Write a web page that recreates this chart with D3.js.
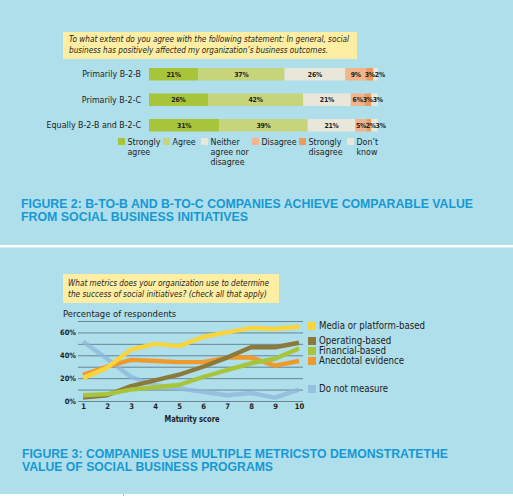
<!DOCTYPE html>
<html>
<head>
<meta charset="utf-8">
<script src="https://cdn.jsdelivr.net/npm/d3@7"></script>
<style>
  body { margin: 0; background: #aedfeb; }
  svg { display: block; }
  text { font-family: "Liberation Sans Narrow", "DejaVu Sans Condensed", "Liberation Sans", sans-serif; fill: #1d1d1b; }
  .title { font-family: "Liberation Sans", Arial, sans-serif; font-weight: bold; fill: #1798d3; font-size: 12.5px; }
</style>
</head>
<body>
<div id="chart"></div>
<script>
// figure 2 data
const groups = ['Primarily B-2-B', 'Primarily B-2-C', 'Equally B-2-B and B-2-C'];
const answers = ['Strongly agree', 'Agree', 'Neither agree nor disagree', 'Disagree', 'Strongly disagree', "Don't know"];
const stronglyAgree = [21, 26, 31];
const agree = [37, 42, 39];
const neither = [26, 21, 21];
const disagree = [9, 6, 5];
const stronglyDisagree = [3, 3, 2];
const dontKnow = [2, 3, 3];

// figure 3 data
const maturity = [1, 2, 3, 4, 5, 6, 7, 8, 9, 10];
const mediaBased = [20, 29, 45, 50, 48, 56, 60, 64, 63, 65];
const operatingBased = [3, 5, 13, 18, 23, 30, 38, 47, 47, 51];
const financialBased = [5, 6, 10, 12, 14, 21, 27, 33, 37, 46];
const anecdotal = [23, 30, 36, 35, 34, 34, 38, 38, 31, 35];
const notMeasure = [52, 37, 21, 14, 11, 8, 5, 7, 3, 10];
const yTicks = [0, 10, 20, 30, 40, 50, 60, 70];

const width = 513;
const height = 496;

const svg = d3.select('#chart')
  .append('svg')
  .attr('width', width)
  .attr('height', height);

svg.append('rect').attr('width', width).attr('height', height).attr('fill', '#aedfeb');

// white separators
svg.append('rect').attr('x', 0).attr('y', 245).attr('width', width).attr('height', 2.5).attr('fill', '#fff');
svg.append('rect').attr('x', 0).attr('y', 494).attr('width', width).attr('height', 2).attr('fill', '#fff');
svg.append('rect').attr('x', 123).attr('y', 494).attr('width', 1).attr('height', 2).attr('fill', '#bbb');

// ---------- figure 2: stacked bars ----------
const q1 = svg.append('g');
q1.append('rect').attr('x', 63).attr('y', 32).attr('width', 294).attr('height', 27).attr('fill', '#fdeea3');
q1.append('text').attr('x', 69).attr('y', 42).attr('font-size', 8.6).attr('font-style', 'italic')
  .attr('textLength', 280).attr('lengthAdjust', 'spacingAndGlyphs')
  .text('To what extent do you agree with the following statement:  In general, social');
q1.append('text').attr('x', 69).attr('y', 53).attr('font-size', 8.6).attr('font-style', 'italic')
  .attr('textLength', 259).attr('lengthAdjust', 'spacingAndGlyphs')
  .text('business has positively affected my organization\u2019s business outcomes.');

const table = groups.map((g, i) => ({
  group: g,
  'Strongly agree': stronglyAgree[i],
  'Agree': agree[i],
  'Neither agree nor disagree': neither[i],
  'Disagree': disagree[i],
  'Strongly disagree': stronglyDisagree[i],
  "Don't know": dontKnow[i]
}));

const series = d3.stack().keys(answers).offset(d3.stackOffsetExpand)(table);

const barColor = d3.scaleOrdinal()
  .domain(answers)
  .range(['#a8c43b', '#c6d57c', '#e9e7d9', '#f2b48b', '#ee9a5e', '#e9e7d9']);

const bx = d3.scaleLinear().domain([0, 1]).range([149, 378]);
const by = d3.scaleBand().domain(groups).range([61.5, 138]).paddingInner(0.51).paddingOuter(0.255);

const layers = q1.selectAll('g.layer')
  .data(series)
  .join('g')
    .attr('class', 'layer')
    .attr('fill', d => barColor(d.key));

layers.selectAll('rect')
  .data(d => d)
  .join('rect')
    .attr('x', d => bx(d[0]))
    .attr('y', d => by(d.data.group))
    .attr('width', d => bx(d[1]) - bx(d[0]))
    .attr('height', by.bandwidth());

// labels: centred in the segment, small ones pushed right so they don't collide
const labels = [];
groups.forEach((g, gi) => {
  let prev = -Infinity;
  series.forEach((s, si) => {
    const d = s[gi];
    let cx = (bx(d[0]) + bx(d[1])) / 2;
    if (si === series.length - 1) cx = bx(d[0]) + 6.6;
    cx = Math.max(cx, prev + 9.8);
    prev = cx;
    labels.push({ group: g, cx, value: d.data[s.key] });
  });
});

q1.selectAll('text.seg')
  .data(labels)
  .join('text')
    .attr('class', 'seg')
    .attr('x', d => d.cx)
    .attr('y', d => by(d.group) + by.bandwidth() / 2 + 2.5)
    .attr('text-anchor', 'middle')
    .attr('font-size', 6.9)
    .attr('font-weight', 'bold')
    .attr('letter-spacing', -0.2)
    .text(d => d.value + '%');

const yAxisBars = q1.append('g')
  .attr('transform', 'translate(141,0)')
  .call(d3.axisLeft(by).tickSize(0).tickPadding(0));
yAxisBars.select('.domain').remove();
yAxisBars.selectAll('text').attr('font-size', 8.8).attr('font-family', null).attr('fill', '#1d1d1b');

const legendX = [118, 163, 201, 252, 299, 347];
const legendLines = [['Strongly', 'agree'], ['Agree'], ['Neither', 'agree nor', 'disagree'], ['Disagree'], ['Strongly', 'disagree'], ['Don\u2019t', 'know']];
const leg1 = q1.selectAll('g.leg')
  .data(answers)
  .join('g')
    .attr('class', 'leg')
    .attr('transform', (d, i) => `translate(${legendX[i]},138)`);
leg1.append('rect').attr('width', 7).attr('height', 7).attr('fill', d => barColor(d));
leg1.append('text')
  .attr('x', 9.5).attr('y', 7.3)
  .attr('font-size', 8.8)
  .selectAll('tspan')
  .data((d, i) => legendLines[i])
  .join('tspan')
    .attr('x', 9.5)
    .attr('dy', (d, i) => i === 0 ? 0 : 9.6)
    .text(d => d);

svg.append('text').attr('class', 'title').attr('x', 21).attr('y', 208)
  .attr('textLength', 452).attr('lengthAdjust', 'spacingAndGlyphs')
  .text('FIGURE 2: B-TO-B AND B-TO-C COMPANIES ACHIEVE COMPARABLE VALUE');
svg.append('text').attr('class', 'title').attr('x', 21).attr('y', 221)
  .attr('textLength', 227).attr('lengthAdjust', 'spacingAndGlyphs')
  .text('FROM SOCIAL BUSINESS INITIATIVES');

// ---------- figure 3: lines ----------
const q2 = svg.append('g');
q2.append('rect').attr('x', 63).attr('y', 274).attr('width', 216).attr('height', 29).attr('fill', '#fdeea3');
q2.append('text').attr('x', 68).attr('y', 286).attr('font-size', 8.6).attr('font-style', 'italic')
  .attr('textLength', 201).attr('lengthAdjust', 'spacingAndGlyphs')
  .text('What metrics does your organization use to determine');
q2.append('text').attr('x', 68).attr('y', 296.5).attr('font-size', 8.6).attr('font-style', 'italic')
  .attr('textLength', 199).attr('lengthAdjust', 'spacingAndGlyphs')
  .text('the success of social initiatives? (check all that apply)');

q2.append('text').attr('x', 63).attr('y', 316.5).attr('font-size', 9.4)
  .text('Percentage of respondents');

const x = d3.scalePoint().domain(maturity).range([83, 299]);
const y = d3.scaleLinear().domain([0, 70]).range([401, 321]);

const gy = q2.append('g')
  .attr('transform', 'translate(78,0)')
  .call(d3.axisLeft(y).tickValues(yTicks).tickSize(-225).tickPadding(2)
    .tickFormat(d => (d % 20 === 0 && d < 70) ? d + '%' : ''));
gy.select('.domain').remove();
gy.selectAll('line').attr('stroke', '#5d7c86').attr('stroke-width', 0.9);
gy.selectAll('text').attr('font-size', 7.4).attr('font-weight', 'bold').attr('font-family', null).attr('fill', '#1d1d1b');

const gx = q2.append('g')
  .attr('transform', 'translate(0,404)')
  .call(d3.axisBottom(x).tickSize(0).tickPadding(0));
gx.select('.domain').remove();
gx.selectAll('text').attr('font-size', 7.6).attr('font-weight', 'bold').attr('font-family', null).attr('fill', '#1d1d1b');

q2.append('text').attr('x', 192).attr('y', 421.5).attr('text-anchor', 'middle')
  .attr('font-size', 9.2).attr('font-weight', 'bold')
  .attr('textLength', 55).attr('lengthAdjust', 'spacingAndGlyphs')
  .text('Maturity score');

const lineSeries = [
  { name: 'Do not measure', values: notMeasure, color: '#8fb6dc', opacity: 0.75, ly: 385 },
  { name: 'Anecdotal evidence', values: anecdotal, color: '#f09a2c', opacity: 1, ly: 357 },
  { name: 'Operating-based', values: operatingBased, color: '#8c7a3c', opacity: 1, ly: 337 },
  { name: 'Financial-based', values: financialBased, color: '#a8c43b', opacity: 1, ly: 347 },
  { name: 'Media or platform-based', values: mediaBased, color: '#f8d53c', opacity: 1, ly: 322 }
];

const line = d3.line()
  .x((d, i) => x(maturity[i]))
  .y(d => y(d));

q2.selectAll('path.series')
  .data(lineSeries)
  .join('path')
    .attr('class', 'series')
    .attr('fill', 'none')
    .attr('stroke', d => d.color)
    .attr('stroke-opacity', d => d.opacity)
    .attr('stroke-width', 4.4)
    .attr('stroke-linejoin', 'round')
    .attr('d', d => line(d.values));

const leg2 = q2.selectAll('g.leg2')
  .data(lineSeries)
  .join('g')
    .attr('class', 'leg2')
    .attr('transform', d => `translate(308,${d.ly})`);
leg2.append('rect').attr('width', 8).attr('height', 8).attr('fill', d => d.color).attr('fill-opacity', d => d.opacity);
leg2.append('text').attr('x', 11).attr('y', 7.3).attr('font-size', 9.6).text(d => d.name);

svg.append('text').attr('class', 'title').attr('x', 22).attr('y', 458)
  .attr('textLength', 426).attr('lengthAdjust', 'spacingAndGlyphs')
  .text('FIGURE 3: COMPANIES USE MULTIPLE METRICSTO DEMONSTRATETHE');
svg.append('text').attr('class', 'title').attr('x', 22).attr('y', 471)
  .attr('textLength', 251).attr('lengthAdjust', 'spacingAndGlyphs')
  .text('VALUE OF SOCIAL BUSINESS PROGRAMS');
</script>
</body>
</html>
